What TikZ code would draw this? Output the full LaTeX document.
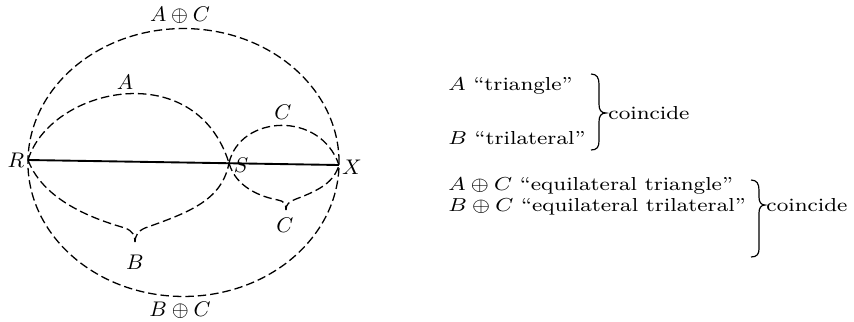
\documentclass[tikz,border=0pt]{standalone}
\usetikzlibrary{calc}
\newcommand{\wide}[1]{\scalebox{1.16}[1]{#1}}
\begin{document}
\begin{tikzpicture}[x=0.4255pt,y=-0.4255pt,
  curve/.style={dashed,dash pattern=on 3.6pt off 1.7pt,line width=0.55pt},
  solidline/.style={line width=0.8pt},
  lbl/.style={inner sep=0pt,font=\fontsize{9}{11}\selectfont},
  txt/.style={inner sep=0pt,anchor=west,font=\fontsize{8}{10}\selectfont},
  bracestyle/.style={line width=0.5pt}]
\useasboundingbox (0,0) rectangle (854,321);
% points
\coordinate (R) at (28,160);
\coordinate (S) at (229,163);
\coordinate (X) at (339,165);
\coordinate (O) at (183.5,162.5);
\coordinate (Btip) at (135,242);
\coordinate (Ctip) at (286,210);
% solid line
\draw[solidline] (R) -- (X);
% outer ellipse
\draw[curve] (O) ellipse [x radius=66.2pt, y radius=57pt];
% A arc
\draw[curve] (R) .. controls (50,88) and (195,55) .. (S);
% upper C arc
\draw[curve] (S) .. controls (240,115) and (320,110) .. (X);
% B brace curve
\draw[curve] (R) .. controls (45,205) and (105,222) .. (125,228)
  .. controls (133,231) and (135,236) .. (Btip);
\draw[curve] (Btip) .. controls (135,236) and (138,231) .. (145,228)
  .. controls (190,212) and (222,200) .. (S);
% lower C brace curve
\draw[curve] (S) .. controls (236,188) and (262,197) .. (278,200)
  .. controls (284,201) and (286,204) .. (Ctip);
\draw[curve] (Ctip) .. controls (286,204) and (289,202) .. (296,199)
  .. controls (320,190) and (334,182) .. (X);
% labels
\node[lbl] (lAC) at (180,15) {$A\oplus C$};
\node[lbl] (lBC) at (180,310) {$B\oplus C$};
\node[lbl] (lA) at (125,82) {$A$};
\node[lbl] (lC1) at (283,112) {$C$};
\node[lbl] (lC2) at (285,225) {$C$};
\node[lbl] (lB) at (135,262) {$B$};
\node[lbl] (lR) at (16,160) {$R$};
\node[lbl] (lS) at (241,165) {$S$};
\node[lbl] (lX) at (352,167) {$X$};
% right text, first group
\node[txt] (t1) at (448,86) {\wide{$A$ ``triangle''}};
\node[txt] (t2) at (448,138) {\wide{$B$ ``trilateral''}};
\draw[bracestyle] (591,74) .. controls (597,74) and (599,78) .. (599,84) -- (599,104)
  .. controls (599,110) and (601,113) .. (606,113)
  .. controls (601,113) and (599,116) .. (599,122) -- (599,141)
  .. controls (599,147) and (597,150) .. (591,150);
\node[txt] (c1) at (608,113) {\wide{coincide}};
% second group
\node[txt] (t3) at (448,186) {\wide{$A\oplus C$ ``equilateral triangle''}};
\node[txt] (t4) at (448,207) {\wide{$B\oplus C$ ``equilateral trilateral''}};
\draw[bracestyle] (751,180) .. controls (757,180) and (759,184) .. (759,190) -- (759,197)
  .. controls (759,202) and (761,205) .. (765,205)
  .. controls (761,205) and (759,208) .. (759,213) -- (759,249)
  .. controls (759,254) and (757,257) .. (751,257);
\node[txt] (c2) at (766,205) {\wide{coincide}};
\end{tikzpicture}
\end{document}
